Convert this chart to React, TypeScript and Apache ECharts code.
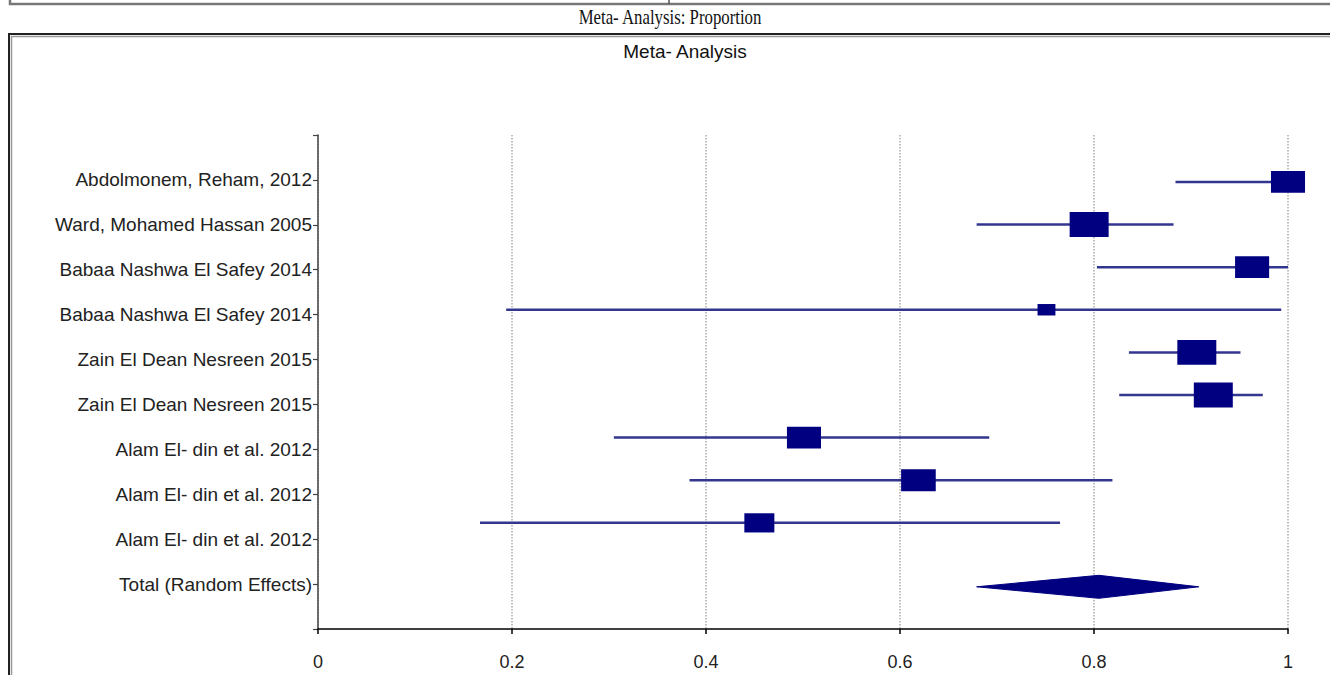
import React, { useEffect, useRef } from "react";
import * as echarts from "echarts";

const studyLabels = [
  "Abdolmonem, Reham, 2012",
  "Ward, Mohamed Hassan 2005",
  "Babaa Nashwa El Safey 2014",
  "Babaa Nashwa El Safey 2014",
  "Zain El Dean Nesreen 2015",
  "Zain El Dean Nesreen 2015",
  "Alam El- din et al. 2012",
  "Alam El- din et al. 2012",
  "Alam El- din et al. 2012",
];
const totalLabel = "Total (Random Effects)";

const estimates = [1.0, 0.795, 0.963, 0.751, 0.906, 0.923, 0.501, 0.619, 0.455];
const lowerCI = [0.884, 0.679, 0.803, 0.194, 0.836, 0.826, 0.305, 0.383, 0.167];
const upperCI = [1.0, 0.882, 1.0, 0.993, 0.951, 0.974, 0.692, 0.819, 0.765];
const weights = [11.6, 15.2, 11.6, 3.2, 15.2, 15.2, 11.6, 12.0, 9.0];

const pooledEstimate = 0.805;
const pooledLower = 0.679;
const pooledUpper = 0.908;

const mainTitle = "Meta- Analysis: Proportion";
const subTitle = "Meta- Analysis";

const MARK_COLOR = "#000080";
const LINE_COLOR = "#33368f";
const SANS = '"Liberation Sans", Arial, sans-serif';

export default function App() {
  const ref = useRef<HTMLDivElement>(null);

  useEffect(() => {
    if (!ref.current) return;
    const chart = echarts.init(ref.current, null, { renderer: "svg" });
    const allLabels = [...studyLabels, totalLabel];
    const totalRow = studyLabels.length + 0.5;

    const ciData = studyLabels.map((_, i) => [lowerCI[i], upperCI[i], i]);
    const boxData = studyLabels.map((_, i) => [estimates[i], i, weights[i]]);
    const diamondData = [[pooledLower, pooledEstimate, pooledUpper, totalRow]];

    chart.setOption({
      animation: false,
      backgroundColor: "#ffffff",
      textStyle: { fontFamily: SANS },
      grid: { left: 318, right: 42, top: 135, bottom: 46, containLabel: false },
      xAxis: {
        type: "value",
        position: "bottom",
        min: 0,
        max: 1,
        interval: 0.2,
        axisLine: { show: true, onZero: false, lineStyle: { color: "#000", width: 1.5 } },
        axisTick: { show: true, length: 5, lineStyle: { color: "#000", width: 1.5 } },
        axisLabel: { fontSize: 18, color: "#222", margin: 24, fontFamily: SANS },
        splitLine: { show: true, lineStyle: { color: "#aaaaaa", type: "dotted", width: 1.5 } },
      },
      yAxis: [
        {
          type: "value",
          min: 0,
          max: 11,
          interval: 1,
          inverse: true,
          position: "left",
          axisLine: { show: true, onZero: false, lineStyle: { color: "#444", width: 1.5 } },
          axisTick: { show: true, length: 5, lineStyle: { color: "#444", width: 1.2 } },
          axisLabel: {
            fontSize: 19,
            color: "#222",
            margin: 6,
            fontFamily: SANS,
            formatter: (v: number) => allLabels[v - 1] ?? "",
          },
          splitLine: { show: false },
        },
        {
          type: "value",
          min: -1.1,
          max: 10.49,
          inverse: true,
          show: false,
          splitLine: { show: false },
        },
      ],
      graphic: [
        {
          type: "polyline",
          shape: { points: [[10, 0], [10, 4], [1335, 4]] },
          style: { stroke: "#777", lineWidth: 2.5, fill: "none" },
        },
        {
          type: "line",
          shape: { x1: 669, y1: 0, x2: 669, y2: 4 },
          style: { stroke: "#555", lineWidth: 1.5 },
        },
        {
          type: "rect",
          shape: { x: 9, y: 34, width: 1400, height: 700 },
          style: { stroke: "#222", lineWidth: 2, fill: "none" },
        },
        {
          type: "polyline",
          shape: { points: [[11.5, 700], [11.5, 36.5], [1335, 36.5]] },
          style: { stroke: "#999", lineWidth: 1.5, fill: "none" },
        },
        {
          type: "text",
          x: 670,
          y: 18,
          scaleX: 0.84,
          style: {
            text: mainTitle,
            fontFamily: '"Liberation Serif", "Times New Roman", serif',
            fontSize: 20,
            fill: "#111",
            textAlign: "center",
            textVerticalAlign: "middle",
          },
        },
        {
          type: "text",
          x: 685,
          y: 51,
          style: {
            text: subTitle,
            fontFamily: SANS,
            fontSize: 19,
            fill: "#111",
            textAlign: "center",
            textVerticalAlign: "middle",
          },
        },
      ],
      series: [
        {
          type: "custom",
          yAxisIndex: 1,
          clip: false,
          encode: { x: [0, 1], y: 2 },
          data: ciData,
          renderItem: (_p: any, api: any) => {
            const a = api.coord([api.value(0), api.value(2)]);
            const b = api.coord([api.value(1), api.value(2)]);
            return {
              type: "line",
              shape: { x1: a[0], y1: a[1], x2: b[0], y2: b[1] },
              style: { stroke: LINE_COLOR, lineWidth: 2.5 },
            };
          },
          z: 2,
        },
        {
          type: "scatter",
          yAxisIndex: 1,
          clip: false,
          symbol: "rect",
          symbolSize: (v: number[]) => {
            const w = 10 * Math.sqrt(v[2]);
            return [w, w * 0.64];
          },
          itemStyle: { color: MARK_COLOR, opacity: 1 },
          data: boxData,
          z: 3,
        },
        {
          type: "custom",
          yAxisIndex: 1,
          clip: false,
          encode: { x: [0, 1, 2], y: 3 },
          data: diamondData,
          renderItem: (_p: any, api: any) => {
            const l = api.coord([api.value(0), api.value(3)]);
            const c = api.coord([api.value(1), api.value(3)]);
            const r = api.coord([api.value(2), api.value(3)]);
            const h = 11.5;
            return {
              type: "polygon",
              shape: {
                points: [
                  [l[0], l[1]],
                  [c[0], c[1] - h],
                  [r[0], r[1]],
                  [c[0], c[1] + h],
                ],
              },
              style: { fill: MARK_COLOR, stroke: MARK_COLOR, lineWidth: 1 },
            };
          },
          z: 3,
        },
      ],
    });

    return () => chart.dispose();
  }, []);

  return (
    <div
      ref={ref}
      style={{ position: "fixed", left: 0, top: 0, width: 1330, height: 675, background: "#fff" }}
    />
  );
}
